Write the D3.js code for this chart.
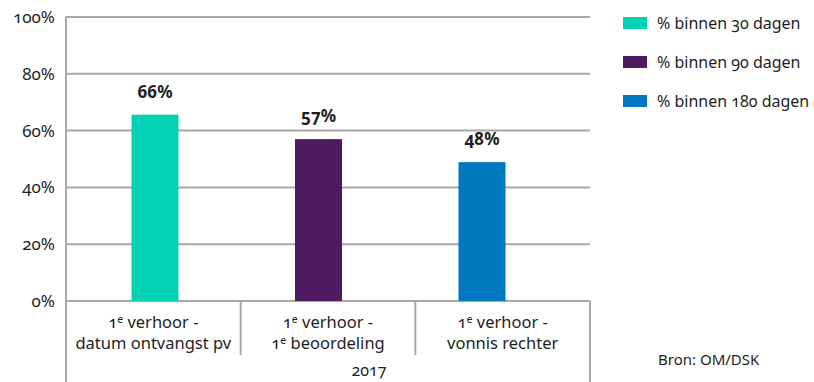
<!DOCTYPE html>
<html><head><meta charset="utf-8">
<script src="https://cdn.jsdelivr.net/npm/d3@7"></script>
<style>
body{margin:0;background:#fff;}
text{font-family:"Noto Sans",sans-serif;font-variant-numeric:oldstyle-nums;fill:#1e1e1e;}
</style></head>
<body><svg id="c" width="814" height="382"></svg>
<script>
const categories = [
  ["1|e| verhoor -", "datum ontvangst pv"],
  ["1|e| verhoor -", "1|e| beoordeling"],
  ["1|e| verhoor -", "vonnis rechter"]
];
const seriesNames = ["% binnen 30 dagen", "% binnen 90 dagen", "% binnen 180 dagen"];
const values = [65.6, 57, 48.9];
const valueLabels = ["66%", "57%", "48%"];
const yTicks = [0, 20, 40, 60, 80, 100];
const groupLabel = "2017";
const source = "Bron: OM/DSK";
const colors = ["#00D3B5", "#4E1A60", "#0078C0"];

(function () {
const svg = d3.select("#c");
const pL = 66, pR = 590, pT = 17, pB = 301;
const y = d3.scaleLinear().domain([0, 100]).range([pB, pT]);
const idx = d3.range(categories.length);
const xBand = d3.scaleBand().domain(idx).range([pL, pR]);
const xBar = d3.scalePoint().domain(idx).range([155, 482]);
const grid = "#a8a8a8";

svg.append("g").selectAll("line").data(yTicks).join("line")
  .attr("x1", pL).attr("x2", pR)
  .attr("y1", d => y(d)).attr("y2", d => y(d))
  .attr("stroke", grid).attr("stroke-width", 2);

svg.append("g").selectAll("text").data(yTicks).join("text")
  .attr("x", 55).attr("y", d => y(d)).attr("dy", "0.35em")
  .attr("text-anchor", "end").attr("font-size", 17)
  .text(d => d + "%");

svg.append("line").attr("x1", pL).attr("x2", pL).attr("y1", pT).attr("y2", 382)
  .attr("stroke", grid).attr("stroke-width", 2);
svg.append("line").attr("x1", pR).attr("x2", pR).attr("y1", pB).attr("y2", 382)
  .attr("stroke", grid).attr("stroke-width", 2);
svg.append("g").selectAll("line").data(idx.slice(1)).join("line")
  .attr("x1", d => xBand(d)).attr("x2", d => xBand(d))
  .attr("y1", pB).attr("y2", 355)
  .attr("stroke", grid).attr("stroke-width", 2);

const bw = 47;
svg.append("g").selectAll("rect").data(idx).join("rect")
  .attr("x", i => xBar(i) - bw / 2).attr("width", bw)
  .attr("y", i => y(values[i])).attr("height", i => pB - y(values[i]))
  .attr("fill", i => colors[i]);

svg.append("g").selectAll("text").data(idx).join("text")
  .attr("x", i => xBar(i)).attr("y", i => y(values[i]) - 17)
  .attr("text-anchor", "middle").attr("font-size", 17).attr("font-weight", "bold")
  .text(i => valueLabels[i]);

function richLine(sel, str) {
  str.split("|").forEach((part, k) => {
    if (k % 2 === 1) {
      sel.append("tspan").attr("font-size", 10.5).attr("dy", "-0.5em").text(part);
    } else {
      const t = sel.append("tspan").text(part);
      if (k > 0) t.attr("dy", "0.32em");
    }
  });
}
idx.forEach(i => {
  categories[i].forEach((line, j) => {
    const t = svg.append("text").attr("x", xBand(i) + xBand.bandwidth() / 2)
      .attr("y", 328 + j * 21).attr("text-anchor", "middle").attr("font-size", 16.5);
    richLine(t, line);
  });
});

svg.append("text").attr("x", 369).attr("y", 376).attr("text-anchor", "middle")
  .attr("font-size", 16).text(groupLabel);

const lg = svg.append("g").selectAll("g").data(seriesNames).join("g")
  .attr("transform", (d, i) => `translate(623,${17 + i * 39})`);
lg.append("rect").attr("width", 24).attr("height", 12).attr("fill", (d, i) => colors[i]);
lg.append("text").attr("x", 34).attr("y", 6).attr("dy", "0.35em").attr("font-size", 16).text(d => d);

svg.append("text").attr("x", 658).attr("y", 360).attr("dy", "0.35em").attr("font-size", 15).text(source);
})();
</script></body></html>
